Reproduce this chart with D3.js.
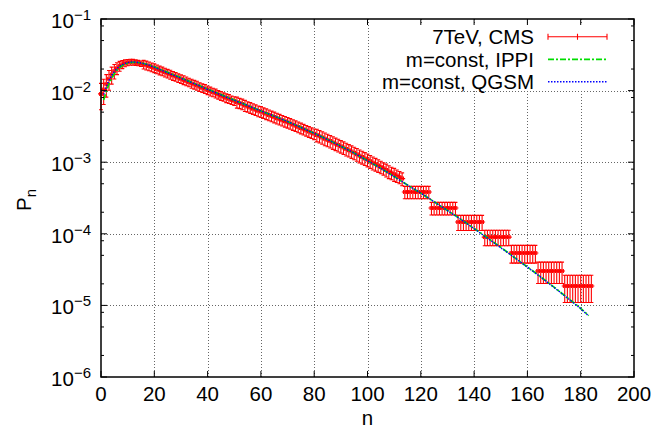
<!DOCTYPE html>
<html>
<head>
<meta charset="utf-8">
<script src="https://cdn.jsdelivr.net/npm/d3@7"></script>
<style>
  body { margin: 0; background: #fff; }
  text { font-family: "Liberation Sans", Arial, Helvetica, sans-serif; fill: #000; }
</style>
</head>
<body>
<svg id="chart" width="657" height="428"></svg>
<script>
// CMS 7 TeV multiplicity distribution, one point per n (n = 0 .. 113)
const cmsP = [
  0.0090, 0.0104, 0.0124, 0.0146, 0.0168, 0.0188, 0.0206, 0.0221, 0.0233, 0.0242,
  0.0247, 0.0250, 0.0250, 0.0247, 0.0243, 0.0238, 0.0232, 0.0226, 0.0220, 0.0213,
  0.0207, 0.0200, 0.0193, 0.0187, 0.0180, 0.0174, 0.0168, 0.0162, 0.0157, 0.0151,
  0.0146, 0.0141, 0.0136, 0.0131, 0.0126, 0.0122, 0.0118, 0.0113, 0.0109, 0.0106,
  0.0102, 0.0098, 0.0095, 0.0092, 0.0088, 0.0085, 0.0082, 0.0079, 0.0077, 0.0074,
  0.0072, 0.0069, 0.0067, 0.0065, 0.0062, 0.0060, 0.0058, 0.0056, 0.0054, 0.0052,
  0.0051, 0.00490, 0.00474, 0.00458, 0.00442, 0.00427, 0.00412, 0.00398, 0.00385, 0.00372,
  0.00360, 0.00347, 0.00335, 0.00323, 0.00311, 0.00300, 0.00289, 0.00278, 0.00268, 0.00258,
  0.00249, 0.00240, 0.00231, 0.00222, 0.00213, 0.00205, 0.00197, 0.00189, 0.00181, 0.00174,
  0.00167, 0.00160, 0.00153, 0.00147, 0.00141, 0.00135, 0.00129, 0.00123, 0.00118, 0.00113,
  0.00108, 0.00103, 0.00098, 0.00094, 0.00090, 0.00086, 0.00082, 0.00078, 0.00074, 0.00071,
  0.00068, 0.00065, 0.00062, 0.00059
];
const cmsErr = [
  0.0036, 0.0040, 0.0043, 0.0045, 0.0045, 0.0043, 0.0039, 0.0035, 0.0030, 0.0027,
  0.0025, 0.0024, 0.0023, 0.0022, 0.0021, 0.0021, 0.0032, 0.0032, 0.0031, 0.0030,
  0.0029, 0.0028, 0.0027, 0.0026, 0.0025, 0.0024, 0.0024, 0.0023, 0.0022, 0.0021,
  0.0020, 0.0020, 0.0019, 0.0018, 0.0018, 0.0017, 0.0017, 0.0016, 0.0015, 0.0015,
  0.0014, 0.0014, 0.0013, 0.0013, 0.0012, 0.0012, 0.0011, 0.0011, 0.0011, 0.0010,
  0.0010, 0.0012, 0.0011, 0.0011, 0.0011, 0.0010, 0.0010, 0.00095, 0.00092, 0.00088,
  0.00087, 0.00083, 0.00081, 0.00078, 0.00075, 0.00073, 0.00070, 0.00068, 0.00065, 0.00063,
  0.00061, 0.00059, 0.00057, 0.00055, 0.00053, 0.00051, 0.00049, 0.00047, 0.00046, 0.00044,
  0.00042, 0.00048, 0.00046, 0.00044, 0.00043, 0.00041, 0.00039, 0.00038, 0.00036, 0.00035,
  0.00033, 0.00032, 0.00031, 0.00029, 0.00028, 0.00027, 0.00026, 0.00025, 0.00024, 0.00023,
  0.00022, 0.00021, 0.00020, 0.00019, 0.00018, 0.00017, 0.00016, 0.00016, 0.00015, 0.00014,
  0.00014, 0.00013, 0.00012, 0.00012
];

// High-multiplicity tail, published in wide bins (same value for every n in a bin)
const binFirst = [114, 124, 134, 144, 154, 164, 174];
const binLast  = [123, 133, 143, 153, 163, 173, 184];
const binP     = [3.84e-4, 2.29e-4, 1.46e-4, 9.0e-5, 5.4e-5, 3.02e-5, 1.87e-5];
const binErr   = [7.5e-5, 4.6e-5, 3.5e-5, 2.2e-5, 1.5e-5, 1.0e-5, 7.7e-6];

// Model curves
const ippiN = [1, 2, 3, 4, 5, 6, 7, 8, 9, 10, 11, 12, 13, 14, 15, 16, 18, 20, 25, 30, 35, 40, 45, 50,
  55, 60, 65, 70, 75, 80, 85, 90, 95, 100, 105, 110, 115, 120, 125, 130, 135, 140, 145, 150,
  155, 160, 165, 170, 175, 180, 183];
const ippiP = [0.0074, 0.0098, 0.0124, 0.0149, 0.0172, 0.0193, 0.0210, 0.0224, 0.0234, 0.0241,
  0.0246, 0.0248, 0.0248, 0.0246, 0.0243, 0.0239, 0.0229, 0.0215, 0.0180, 0.0151, 0.0126, 0.0105,
  0.0088, 0.0074, 0.0062, 0.0052, 0.0044, 0.0037, 0.00307, 0.00254, 0.00208, 0.00168, 0.00134,
  0.00105, 0.00082, 0.00063, 0.00048, 0.00037, 0.00028, 0.000212, 0.000160, 0.000119, 0.000088,
  0.000065, 0.000047, 0.0000345, 0.0000250, 0.0000180, 0.0000128, 0.0000091, 0.0000072];

const qgsmN = [1, 2, 3, 4, 5, 6, 7, 8, 9, 10, 11, 12, 13, 14, 15, 16, 18, 20, 25, 30, 35, 40, 45, 50,
  55, 60, 65, 70, 75, 80, 85, 90, 95, 100, 105, 110, 115, 120, 125, 130, 135, 140, 145, 150,
  155, 160, 165, 170, 175, 180, 183];
const qgsmP = [0.0088, 0.0113, 0.0139, 0.0163, 0.0185, 0.0204, 0.0219, 0.0231, 0.0240, 0.0246,
  0.0250, 0.0251, 0.0250, 0.0247, 0.0243, 0.0238, 0.0227, 0.0212, 0.0177, 0.0149, 0.0125, 0.0104,
  0.0087, 0.0073, 0.0062, 0.0052, 0.0044, 0.0037, 0.00306, 0.00253, 0.00207, 0.00167, 0.00134,
  0.00105, 0.00082, 0.00063, 0.00048, 0.00037, 0.00028, 0.000211, 0.000159, 0.000118, 0.000087,
  0.000064, 0.000047, 0.0000342, 0.0000248, 0.0000178, 0.0000127, 0.0000090, 0.0000071];

const xTickValues = [0, 20, 40, 60, 80, 100, 120, 140, 160, 180, 200];
const yDecades = [-6, -5, -4, -3, -2, -1];
const yMinorMantissa = [2, 5, 8];
const legendLabels = ["7TeV, CMS", "m=const, IPPI", "m=const, QGSM"];
const xTitle = "n";

// ---- layout ----
const svg = d3.select("#chart");
const plot = { left: 101, right: 634, top: 19, bottom: 377 };
const x = d3.scaleLinear().domain([0, 200]).range([plot.left, plot.right]);
const y = d3.scaleLog().domain([1e-6, 1e-1]).range([plot.bottom, plot.top]);
const FONT = 20.5, SUB = 15;

function label(parent, px, py, anchor, rotate) {
  return parent.append("text")
    .attr("transform", `translate(${px},${py})` + (rotate ? ` rotate(${rotate})` : ""))
    .attr("text-anchor", anchor).attr("font-size", FONT);
}

// grid
const grid = svg.append("g")
  .attr("stroke", "#666").attr("stroke-width", 1).attr("stroke-dasharray", "1,2");
xTickValues.filter(v => v > 0 && v < 200).forEach(v => {
  const px = Math.round(x(v)) + 0.5;
  grid.append("line").attr("x1", px).attr("x2", px).attr("y1", plot.top).attr("y2", plot.bottom);
});
yDecades.filter(d => d > -6 && d < -1).forEach(d => {
  const py = Math.round(y(Math.pow(10, d))) + 0.5;
  grid.append("line").attr("x1", plot.left).attr("x2", plot.right).attr("y1", py).attr("y2", py);
});

// expand the data into (n, P, err) points
const points = cmsP.map((p, i) => ({ n: i, p: p, e: cmsErr[i] }));
binFirst.forEach((f, b) => {
  for (let n = f; n <= binLast[b]; n++) points.push({ n: n, p: binP[b], e: binErr[b] });
});

// CMS error bars
const red = "#ff0000";
const cap = 2;
const eg = svg.append("g").attr("stroke", red).attr("stroke-width", 1.1).attr("fill", "none");
points.forEach(d => {
  const cx = x(d.n), cy = y(d.p);
  const yTop = y(d.p + d.e), yBot = y(Math.max(d.p - d.e, 1.1e-6));
  const xl = x(d.n - 0.5), xr = x(d.n + 0.5);
  const path = d3.path();
  path.moveTo(cx, yTop); path.lineTo(cx, yBot);
  path.moveTo(cx - cap, yTop); path.lineTo(cx + cap, yTop);
  path.moveTo(cx - cap, yBot); path.lineTo(cx + cap, yBot);
  path.moveTo(xl, cy); path.lineTo(xr, cy);
  path.moveTo(xl, cy - cap); path.lineTo(xl, cy + cap);
  path.moveTo(xr, cy - cap); path.lineTo(xr, cy + cap);
  path.moveTo(cx - 3, cy); path.lineTo(cx + 3, cy);
  eg.append("path").attr("d", path.toString());
});

// model curves
const line = d3.line().x(d => x(d[0])).y(d => y(d[1]));
svg.append("path")
  .datum(ippiN.map((n, i) => [n, ippiP[i]]))
  .attr("d", line).attr("fill", "none")
  .attr("stroke", "#00dd00").attr("stroke-width", 1.7)
  .attr("stroke-dasharray", "6,2,2,2");
svg.append("path")
  .datum(qgsmN.map((n, i) => [n, qgsmP[i]]))
  .attr("d", line).attr("fill", "none")
  .attr("stroke", "#0000ff").attr("stroke-width", 1.4)
  .attr("stroke-dasharray", "1.5,1.5");

// legend (opaque key)
const key = svg.append("g");
key.append("rect").attr("x", 372).attr("y", 23).attr("width", 247).attr("height", 68).attr("fill", "#fff");
const rowY = [36.7, 59.3, 81.7];
legendLabels.forEach((t, i) => {
  label(key, 534, rowY[i] + 7.3, "end").text(t);
});
const ks = { x1: 548, x2: 607 };
const kp = d3.path();
kp.moveTo(ks.x1, rowY[0]); kp.lineTo(ks.x2, rowY[0]);
kp.moveTo(ks.x1, rowY[0] - 3); kp.lineTo(ks.x1, rowY[0] + 3);
kp.moveTo(ks.x2, rowY[0] - 3); kp.lineTo(ks.x2, rowY[0] + 3);
kp.moveTo((ks.x1 + ks.x2) / 2, rowY[0] - 3); kp.lineTo((ks.x1 + ks.x2) / 2, rowY[0] + 3);
key.append("path").attr("d", kp.toString()).attr("stroke", red).attr("stroke-width", 1.1).attr("fill", "none");
key.append("line").attr("x1", ks.x1).attr("x2", ks.x2).attr("y1", rowY[1]).attr("y2", rowY[1])
  .attr("stroke", "#00dd00").attr("stroke-width", 1.7).attr("stroke-dasharray", "6,2,2,2");
key.append("line").attr("x1", ks.x1).attr("x2", ks.x2).attr("y1", rowY[2]).attr("y2", rowY[2])
  .attr("stroke", "#0000ff").attr("stroke-width", 1.4).attr("stroke-dasharray", "1.5,1.5");

// border and ticks
const frame = svg.append("g").attr("stroke", "#000").attr("fill", "none");
frame.append("rect").attr("x", plot.left).attr("y", plot.top)
  .attr("width", plot.right - plot.left).attr("height", plot.bottom - plot.top).attr("stroke-width", 1.5);
const major = 6, minor = 3;
xTickValues.forEach(v => {
  const px = x(v);
  frame.append("line").attr("x1", px).attr("x2", px).attr("y1", plot.bottom).attr("y2", plot.bottom - major);
  frame.append("line").attr("x1", px).attr("x2", px).attr("y1", plot.top).attr("y2", plot.top + major);
});
yDecades.forEach(d => {
  const py = y(Math.pow(10, d));
  frame.append("line").attr("x1", plot.left).attr("x2", plot.left + major).attr("y1", py).attr("y2", py);
  frame.append("line").attr("x1", plot.right).attr("x2", plot.right - major).attr("y1", py).attr("y2", py);
  if (d < -1) {
    yMinorMantissa.forEach(m => {
      const pm = y(m * Math.pow(10, d));
      frame.append("line").attr("x1", plot.left).attr("x2", plot.left + minor).attr("y1", pm).attr("y2", pm);
      frame.append("line").attr("x1", plot.right).attr("x2", plot.right - minor).attr("y1", pm).attr("y2", pm);
    });
  }
});

// tick labels
xTickValues.forEach(v => {
  label(svg, x(v), 401, "middle").text(d3.format("d")(v));
});
yDecades.forEach(d => {
  const t = label(svg, 91, y(Math.pow(10, d)) + 9, "end");
  t.append("tspan").text("10");
  t.append("tspan").attr("dy", -8).attr("font-size", SUB).text("\u2212" + (-d));
});

// axis titles
label(svg, x(100), 425, "middle").text(xTitle);
const yt = label(svg, 31, 200, "middle", -90);
yt.append("tspan").text("P");
yt.append("tspan").attr("dy", 5).attr("font-size", SUB).text("n");
</script>
</body>
</html>
